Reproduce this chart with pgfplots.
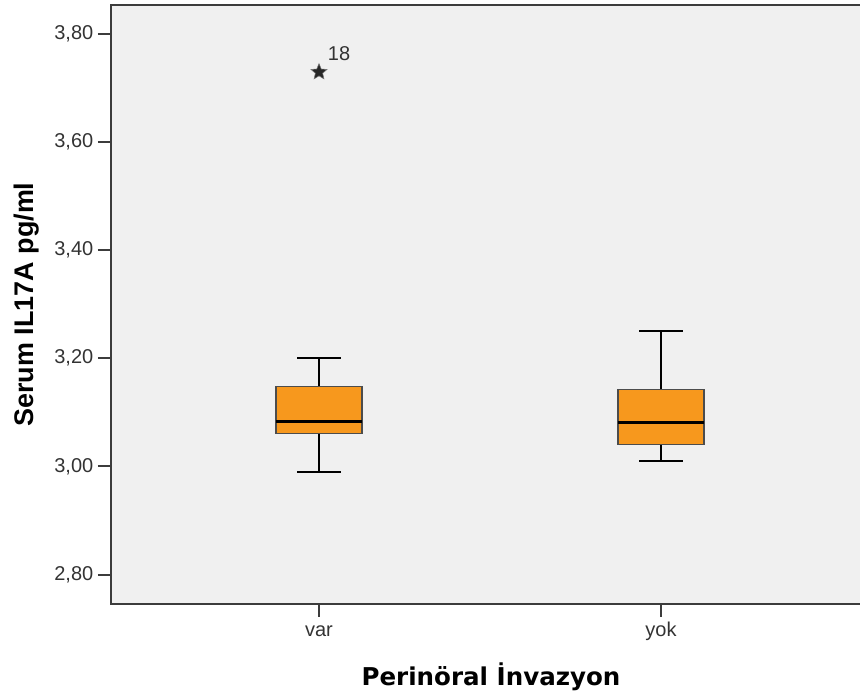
\documentclass[border=0pt]{standalone}
\usepackage{pgfplots}
\pgfplotsset{compat=1.18}
\usepackage{fontspec}
\setmainfont{Liberation Sans}
\newfontfamily\xlabfont{DejaVu Sans}
\definecolor{boxorange}{RGB}{247,152,29}
\definecolor{bggray}{RGB}{240,240,240}
\definecolor{framegray}{RGB}{60,60,60}
\pgfdeclareplotmark{fstar}{%
  \pgfpathmoveto{\pgfpointpolar{90}{\pgfplotmarksize}}%
  \pgfpathlineto{\pgfpointpolar{126}{0.45\pgfplotmarksize}}%
  \pgfpathlineto{\pgfpointpolar{162}{\pgfplotmarksize}}%
  \pgfpathlineto{\pgfpointpolar{198}{0.45\pgfplotmarksize}}%
  \pgfpathlineto{\pgfpointpolar{234}{\pgfplotmarksize}}%
  \pgfpathlineto{\pgfpointpolar{270}{0.45\pgfplotmarksize}}%
  \pgfpathlineto{\pgfpointpolar{306}{\pgfplotmarksize}}%
  \pgfpathlineto{\pgfpointpolar{342}{0.45\pgfplotmarksize}}%
  \pgfpathlineto{\pgfpointpolar{18}{\pgfplotmarksize}}%
  \pgfpathlineto{\pgfpointpolar{54}{0.45\pgfplotmarksize}}%
  \pgfpathclose\pgfusepathqfillstroke}
\begin{document}
\begin{tikzpicture}
\path[use as bounding box] (-83.25pt,-68.25pt) rectangle (561.75pt,453pt);
\fill[bggray] (0pt,0pt) rectangle (570pt,449.25pt);
\begin{axis}[
  at={(0pt,0pt)}, anchor=south west,
  scale only axis,
  width=570pt, height=449.25pt,
  xmin=0.3918, xmax=2.6140,
  ymin=2.7455, ymax=3.853,
  axis line style={draw=framegray, line width=1.5pt},
  xtick={1,2}, xticklabels={var,yok},
  ytick={2.8,3.0,3.2,3.4,3.6,3.8},
  yticklabel style={/pgf/number format/.cd, fixed, fixed zerofill, precision=2, use comma},
  /pgf/number format/assume math mode=true,
  tick label style={font=\fontsize{15}{18}\selectfont, text=black!80},
  xticklabel style={text height=11pt, text depth=3.5pt},
  xtick pos=bottom, ytick pos=left,
  tick align=outside,
  major tick length=9.75pt,
  every tick/.style={framegray, line width=1.5pt},
  xlabel={\xlabfont\bfseries Perinöral İnvazyon},
  ylabel={\bfseries Serum IL17A pg/ml},
  xlabel style={at={(axis description cs:0.5,0)}, anchor=base, yshift=-61.5pt, font=\fontsize{18.4}{22}\selectfont},
  ylabel style={at={(axis description cs:-0.1026,0.5)}, anchor=base, font=\fontsize{20.2}{24}\selectfont},
  whisk/.style={black, line width=1.5pt, mark=none},
  boxs/.style={fill=boxorange, draw=black!70, line width=0.9pt, mark=none},
  med/.style={black, line width=2.4pt, mark=none},
]
% var: lower whisker 2.99, Q1 3.061, median 3.083, Q3 3.147, upper whisker 3.20
\addplot[whisk] coordinates {(1,3.147) (1,3.20)};
\addplot[whisk] coordinates {(1,3.061) (1,2.99)};
\addplot[whisk] coordinates {(0.937,3.20) (1.063,3.20)};
\addplot[whisk] coordinates {(0.937,2.99) (1.063,2.99)};
\addplot[boxs] coordinates {(0.8745,3.061) (1.1255,3.061) (1.1255,3.147) (0.8745,3.147)} -- cycle;
\addplot[med] coordinates {(0.8745,3.083) (1.1255,3.083)};
\addplot[only marks, mark=fstar, mark size=6.3pt, mark options={fill=black!85, draw=black!55, line width=0.4pt}] coordinates {(1,3.729)};
% yok: lower whisker 3.01, Q1 3.040, median 3.081, Q3 3.142, upper whisker 3.251
\addplot[whisk] coordinates {(2,3.142) (2,3.251)};
\addplot[whisk] coordinates {(2,3.040) (2,3.01)};
\addplot[whisk] coordinates {(1.937,3.251) (2.063,3.251)};
\addplot[whisk] coordinates {(1.937,3.01) (2.063,3.01)};
\addplot[boxs] coordinates {(1.8745,3.040) (2.1255,3.040) (2.1255,3.142) (1.8745,3.142)} -- cycle;
\addplot[med] coordinates {(1.8745,3.081) (2.1255,3.081)};
\node[font=\fontsize{15}{18}\selectfont, text=black!80] at (axis cs:1.0585,3.7637) {18};
\end{axis}
\end{tikzpicture}
\end{document}
